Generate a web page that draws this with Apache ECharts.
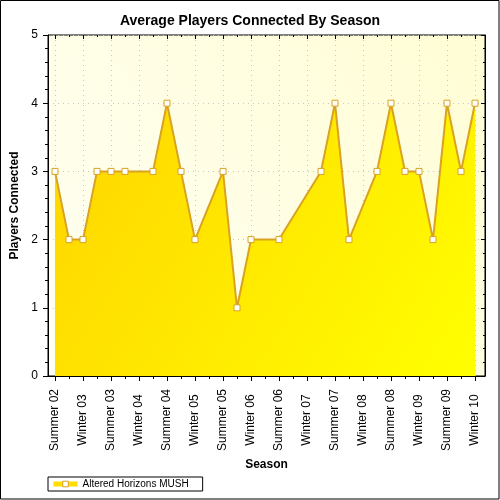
<!DOCTYPE html>
<html>
<head>
<meta charset="utf-8">
<script src="https://cdn.jsdelivr.net/npm/echarts@6/dist/echarts.min.js"></script>
<style>html,body{margin:0;padding:0;background:#fff;}#c{width:500px;height:500px;}</style>
</head>
<body>
<div id="c"></div>
<script>
const categories = ['Summer 02','Fall 02','Winter 03','Spring 03','Summer 03','Fall 03','Winter 04','Spring 04','Summer 04','Fall 04','Winter 05','Spring 05','Summer 05','Fall 05','Winter 06','Spring 06','Summer 06','Fall 06','Winter 07','Spring 07','Summer 07','Fall 07','Winter 08','Spring 08','Summer 08','Fall 08','Winter 09','Spring 09','Summer 09','Fall 09','Winter 10'];
const players = [3,2,2,3,3,3,null,3,4,3,2,null,3,1,2,null,2,null,null,3,4,2,null,3,4,3,3,2,4,3,4];
const yTicks = [0,1,2,3,4,5];
const seriesName = 'Altered Horizons MUSH';

const FONT = 'Liberation Sans, Arial, sans-serif';
const LINE = '#D9A321';
const chart = echarts.init(document.getElementById('c'), null, {renderer:'canvas'});
const G = {top:35, bottom:124};
const yMin = yTicks[0], yMax = yTicks[yTicks.length-1];
chart.setOption({
  animation:false,
  backgroundColor:'#fff',
  title:{text:'Average Players Connected By Season', left:'center', top:9,
    textStyle:{fontFamily:FONT, fontSize:14, fontWeight:'bold', color:'#000'}},
  graphic:[{type:'rect', shape:{x:0.5,y:0.5,width:498.5,height:498.5}, style:{fill:null, stroke:'#000', lineWidth:1}, z:100}],
  grid:[
    {left:48, right:15, top:G.top, bottom:G.bottom, show:true,
     backgroundColor:{type:'linear',x:0,y:1,x2:1,y2:0,colorStops:[{offset:0,color:'#FFFFF4'},{offset:1,color:'#FFFDD4'}]},
     borderColor:'#000', borderWidth:1},
    {left:55, right:25, top:G.top, bottom:G.bottom}
  ],
  xAxis:[
    {gridIndex:0, type:'value', min:0, max:1, z:10, position:'bottom',
     axisLine:{show:true, lineStyle:{color:'#000'}}, axisTick:{show:false}, axisLabel:{show:false}, splitLine:{show:false},
     name:'Season', nameLocation:'middle', nameGap:83,
     nameTextStyle:{fontFamily:FONT, fontSize:12, fontWeight:'bold', color:'#000'}},
    {gridIndex:1, type:'category', data:categories, boundaryGap:false, position:'bottom', z:0,
     axisLine:{show:false},
     axisTick:{show:true, interval:1, length:5, lineStyle:{color:'#000'}},
     axisLabel:{show:true, interval:1, rotate:90, align:'center', verticalAlign:'middle', margin:44,
       fontFamily:FONT, fontSize:12, color:'#000'},
     splitLine:{show:true, interval:1, lineStyle:{color:'#c8c8c8', type:[1,4], width:1}}},
    {gridIndex:1, type:'category', data:categories, boundaryGap:false, position:'bottom', z:0,
     axisLine:{show:false}, axisTick:{show:true, interval:0, length:3, lineStyle:{color:'#000'}},
     axisLabel:{show:false}, splitLine:{show:false}},
    {gridIndex:1, type:'category', data:categories, boundaryGap:false, position:'top', z:0,
     axisLine:{show:false}, axisTick:{show:true, inside:true, interval:1, length:4, lineStyle:{color:'#000'}},
     axisLabel:{show:false}, splitLine:{show:false}},
    {gridIndex:1, type:'category', data:categories, boundaryGap:false, position:'top', z:0,
     axisLine:{show:false}, axisTick:{show:true, inside:true, interval:0, length:2, lineStyle:{color:'#000'}},
     axisLabel:{show:false}, splitLine:{show:false}}
  ],
  yAxis:[
    {gridIndex:0, type:'value', min:yMin, max:yMax, interval:1, position:'left', z:0,
     axisLine:{show:true, lineStyle:{color:'#000'}},
     axisTick:{show:true, length:5, lineStyle:{color:'#000'}},
     minorTick:{show:true, splitNumber:5, length:3, lineStyle:{color:'#000'}},
     axisLabel:{margin:10, fontFamily:FONT, fontSize:12, color:'#000'},
     splitLine:{show:true, lineStyle:{color:'#c8c8c8', type:[1,4], width:1}},
     name:'Players Connected', nameLocation:'middle', nameGap:26, nameRotate:90,
     nameTextStyle:{fontFamily:FONT, fontSize:12, fontWeight:'bold', color:'#000'}},
    {gridIndex:0, type:'value', min:yMin, max:yMax, interval:1, position:'right', z:0,
     axisLine:{show:true, lineStyle:{color:'#000'}},
     axisTick:{show:true, inside:true, length:4, lineStyle:{color:'#000'}},
     minorTick:{show:true, splitNumber:5, length:2, lineStyle:{color:'#000'}},
     axisLabel:{show:false}, splitLine:{show:false}},
    {gridIndex:1, type:'value', min:yMin, max:yMax, interval:1, show:false}
  ],
  legend:{left:48, top:477, orient:'horizontal', padding:[2,14,2,3], itemGap:5,
    backgroundColor:'#fff', borderColor:'#000', borderWidth:1, borderRadius:0,
    itemWidth:24, itemHeight:7,
    lineStyle:{color:'#FFDD00', width:5},
    itemStyle:{color:'#fff', borderColor:LINE, borderWidth:1},
    textStyle:{fontFamily:FONT, fontSize:10, color:'#000'},
    data:[{name:seriesName}]},
  series:[{
    name:seriesName, type:'line', xAxisIndex:1, yAxisIndex:2,
    data:players, connectNulls:true,
    symbol:'rect', symbolSize:6, showSymbol:true,
    lineStyle:{color:LINE, width:2},
    itemStyle:{color:'#fff', borderColor:LINE, borderWidth:1},
    areaStyle:{opacity:1, color:{type:'linear',x:0,y:0,x2:1,y2:1,colorStops:[{offset:0,color:'#FFD400'},{offset:1,color:'#FFFF00'}]}},
    z:3
  }]
});
</script>
</body>
</html>
